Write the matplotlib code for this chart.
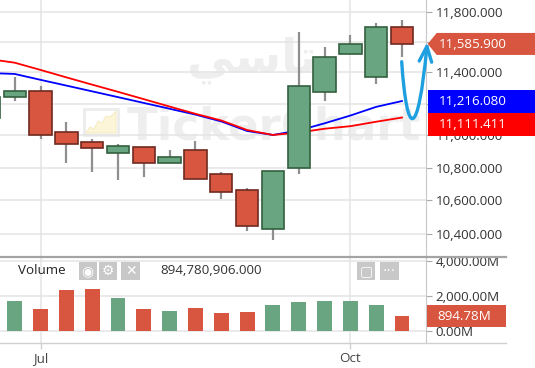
import matplotlib
matplotlib.use("Agg")
import matplotlib.pyplot as plt
import matplotlib.ticker as mticker
import matplotlib.transforms as mtrans
from matplotlib.patches import Polygon, Rectangle, FancyArrowPatch
from matplotlib.lines import Line2D
from matplotlib.path import Path
import numpy as np

plt.rcParams['font.family'] = ['Open Sans', 'DejaVu Sans']

# weekly candles (index 0 is the one cut off at the left edge)
opens  = [11108, 11240, 11282, 11020, 10956, 10888, 10925, 10830, 10910, 10761, 10663, 10432, 10796, 11272, 11518, 11370, 11700]
highs  = [11244, 11368, 11312, 11081, 10975, 10948, 10925, 10908, 10964, 10771, 10674, 10779, 11663, 11564, 11647, 11727, 11745]
lows   = [11108, 11216, 10977, 10830, 10775, 10722, 10744, 10830, 10730, 10607, 10420, 10365, 10761, 11216, 11518, 11325, 11498]
closes = [11244, 11278, 11004, 10944, 10919, 10931, 10830, 10867, 10730, 10653, 10449, 10779, 11310, 11498, 11585, 11700, 11585.9]
volumes = [1500, 1717, 1264, 2321, 2396, 1868, 1264, 1170, 1321, 1038, 1094, 1491, 1642, 1717, 1717, 1491, 894.78]  # millions
ma_blue = [11396, 11390, 11352, 11315, 11278, 11241, 11204, 11167, 11130, 11087, 11027, 11002, 11030, 11075, 11124, 11179, 11216.08]
ma_red  = [11487, 11463, 11416, 11368, 11321, 11275, 11228, 11181, 11135, 11093, 11033, 11002, 11017, 11041, 11057, 11085, 11111.411]
month_labels = ['Jul', 'Oct']
month_idx = [2, 14]
price_ticks = [10400, 10600, 10800, 11000, 11200, 11400, 11600, 11800]
hidden_ticks = [11200, 11600]  # covered by the value tags
vol_ticks = [0, 2000, 4000]
last_volume_raw = 894780906.000

W, H = 535, 368
GREEN, GREEN_EDGE = '#6aa582', '#33603f'
RED, RED_EDGE = '#d8553f', '#6e2a20'
GRID = '#e4e4e4'
FS = 9.6

x = np.arange(len(opens))
up = np.array(closes) >= np.array(opens)

fig = plt.figure(figsize=(W / 100, H / 100), dpi=100)
# pixel transform (top-left origin) for the decorations
pix = mtrans.Affine2D().scale(1 / W, -1 / H).translate(0, 1) + fig.transFigure

ax = fig.add_axes([0, (H - 256.5) / H, 426 / W, 256.5 / H], zorder=0.8)
axv = fig.add_axes([0, (H - 343.3) / H, 426 / W, (343.3 - 257.5) / H], zorder=0)

# ---- price panel ----
ax.set_yscale('log')
ax.set_ylim(10268, 11878.7)
ax.set_xlim(0.43, 16.93)
ax.set_axisbelow(True)
ax.yaxis.set_major_locator(mticker.FixedLocator(price_ticks))
ax.yaxis.set_minor_locator(mticker.NullLocator())
ax.yaxis.set_major_formatter(mticker.FuncFormatter(
    lambda v, p: '' if round(v) in hidden_ticks else f'{v:,.3f}'))
ax.yaxis.tick_right()
ax.set_xticks(month_idx)
ax.tick_params(axis='x', length=0, labelbottom=False)
ax.tick_params(axis='y', length=4.1, width=0.8, color='#aaaaaa', pad=2.9,
               labelsize=FS, labelcolor='#333333')
ax.grid(True, color=GRID, lw=1.1)
for s in ['top', 'left', 'bottom']:
    ax.spines[s].set_visible(False)
ax.spines['right'].set_color('#c8c8c8')

# watermark
ax.text(252, 60, '\uFEF2\uFEB3\uFE8E\uFE97', transform=pix, fontsize=34,
        fontweight='bold', color='#eeeeee', family='DejaVu Sans',
        ha='center', va='center', zorder=0.1)
ax.text(127, 140, 'TickerChart', transform=pix, fontsize=32.5, fontweight='bold',
        color='#eeeeee', family='DejaVu Sans', ha='left', va='baseline', zorder=0.1)
ax.add_patch(Rectangle((84, 109), 34, 26, transform=pix, fill=False,
                       ec='#ececec', lw=2, zorder=0.1))
ax.add_patch(Polygon([(86, 133), (90, 127), (94, 129), (98, 121), (102, 123), (106, 116),
                      (110, 117), (116, 111), (116, 133)], closed=True, transform=pix,
                     fc='#fdf5d8', ec='#f5ecc8', lw=0.8, zorder=0.1))

# moving averages
ax.plot(x, ma_blue, color='#0000ff', lw=1.3, zorder=2)
ax.plot(x, ma_red, color='#ff0000', lw=1.3, zorder=2.1)

# candles
body_lo = np.minimum(opens, closes)
body_h = np.abs(np.array(closes) - np.array(opens))
ax.vlines(x, lows, highs, color='#8f8f8f', lw=1.6, zorder=3)
ax.bar(x, body_h, bottom=body_lo, width=0.865,
       color=[GREEN if u else RED for u in up],
       edgecolor=[GREEN_EDGE if u else RED_EDGE for u in up], lw=1.2, zorder=4)

# ---- volume panel ----
axv.set_xlim(0.43, 16.93)
axv.set_ylim(-680, 4181)
axv.set_axisbelow(True)
axv.bar(x, volumes, width=0.58, color=[GREEN if u else RED for u in up], zorder=2)
axv.yaxis.tick_right()
axv.set_yticks(vol_ticks)
axv.yaxis.set_major_formatter(mticker.FuncFormatter(lambda v, p: f'{v:,.2f}M'))
axv.set_xticks(month_idx)
axv.set_xticklabels(month_labels)
axv.tick_params(axis='y', length=4.1, width=0.8, color='#aaaaaa', pad=2.9,
                labelsize=FS, labelcolor='#333333')
axv.tick_params(axis='x', length=4.5, width=1, color='#d0d0d0', pad=2,
                labelsize=FS, labelcolor='#444444')
axv.grid(True, color=GRID, lw=1.1)
for s in ['top', 'left', 'bottom']:
    axv.spines[s].set_visible(False)
axv.spines['right'].set_color('#c8c8c8')

# cover the part of the volume labels that falls in the price panel
fig.patches.append(Rectangle((426.5, 0), 120, 256.5, transform=pix, fc='white',
                             ec='none', zorder=0.5))

# panel borders
fig.lines.append(Line2D([0, 506], [257, 257], transform=pix, color='#a4a4a4', lw=1.6, zorder=1))
fig.lines.append(Line2D([0, 506], [343.3, 343.3], transform=pix, color='#d0d0d0', lw=1, zorder=1))


def ypix(axis, value):
    return H - axis.transData.transform((1, value))[1]


def tag(yc, text, color, arrow=False, x0=427.7, x1=540, half=11.5):
    if arrow:
        pts = [(x0, yc), (x0 + 9, yc - half), (x1, yc - half), (x1, yc + half), (x0 + 9, yc + half)]
    else:
        pts = [(x0, yc - half), (x1, yc - half), (x1, yc + half), (x0, yc + half)]
    fig.patches.append(Polygon(pts, closed=True, transform=pix, fc=color, ec='none', zorder=2))
    fig.text(439 if x1 > 510 else 437.5, yc + 0.5, text, transform=pix, color='white',
             fontsize=FS, ha='left', va='center', zorder=3)


yb = ypix(ax, ma_blue[-1])
yr = max(ypix(ax, ma_red[-1]), yb + 23)
tag(ypix(ax, closes[-1]), f'{closes[-1]:,.3f}', RED, arrow=True, half=11)
tag(yb, f'{ma_blue[-1]:,.3f}', '#0000ff')
tag(yr, f'{ma_red[-1]:,.3f}', '#ff0000')
tag(ypix(axv, volumes[-1]), f'{volumes[-1]:,.2f}M', RED, x0=427.3, x1=506, half=11)

# hand drawn arrow
arrow_path = Path([(401.7, 61.7), (407, 140), (418, 140), (427.3, 42)],
                  [Path.MOVETO, Path.CURVE4, Path.CURVE4, Path.CURVE4])
fig.patches.append(FancyArrowPatch(path=arrow_path, transform=pix,
                                   arrowstyle='->,head_length=1.1,head_width=0.45',
                                   mutation_scale=10, color='#1ea0e0', lw=2.4, zorder=4))

# volume header
fig.text(18.3, 271, 'Volume', transform=pix, fontsize=FS, color='#222222', va='center')
fig.text(160.7, 271, f'{last_volume_raw:,.3f}', transform=pix, fontsize=FS,
         color='#333333', va='center')
for (bx, bw), glyph in zip([(78.7, 18), (98.7, 18.6), (121.3, 18.7), (357.3, 18), (380, 18.7)],
                           ['\u25c9', '\u2699', '\u2715', '\u25a2', '\u00b7\u00b7\u00b7']):
    fig.patches.append(Rectangle((bx, 262.3), bw, 17.7, transform=pix, fc='#c8c8c8',
                                 ec='none', zorder=2))
    fig.text(bx + bw / 2, 271.2, glyph, transform=pix, fontsize=10, color='white',
             family='DejaVu Sans', ha='center', va='center', zorder=3)

fig.savefig('out.png', dpi=100)
